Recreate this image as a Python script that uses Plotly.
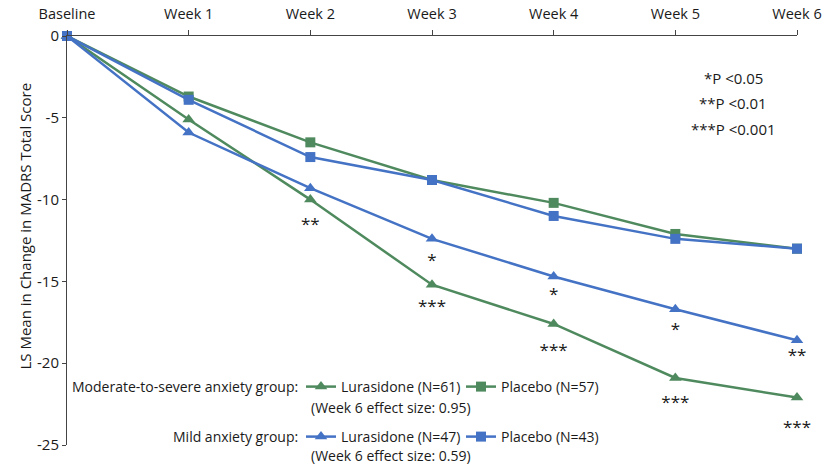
import plotly.graph_objects as go

weeks = ["Baseline", "Week 1", "Week 2", "Week 3", "Week 4", "Week 5", "Week 6"]
x_idx = list(range(len(weeks)))
y_ticks = [0, -5, -10, -15, -20, -25]

mod_luras = [0, -5.1, -10.0, -15.2, -17.6, -20.9, -22.1]
mod_placebo = [0, -3.7, -6.5, -8.8, -10.2, -12.1, -13.0]
mild_luras = [0, -5.9, -9.3, -12.4, -14.7, -16.7, -18.6]
mild_placebo = [0, -3.9, -7.4, -8.8, -11.0, -12.4, -13.0]

# significance labels: (week index, y position, text)
sig_weeks = [2, 3, 3, 4, 4, 5, 5, 6, 6]
sig_y = [-11.6, -13.8, -16.6, -15.9, -19.3, -18.0, -22.5, -19.6, -24.0]
sig_text = ["**", "*", "***", "*", "***", "*", "***", "**", "***"]

GREEN = "#4F8A5E"
BLUE = "#4472C4"
FONT = "Open Sans"
TXT = "#1a1a1a"

W, H = 822, 464
L, R, T, B = 67, 25, 36, 18
PW, PH = W - L - R, H - T - B


def px(xp):
    return (xp - L) / PW


def py(yp):
    return (H - B - yp) / PH


fig = go.Figure()

fig.add_trace(go.Scatter(x=x_idx, y=mod_luras, mode="lines+markers", name="Lurasidone (N=61)",
                         line=dict(color=GREEN, width=2.5),
                         marker=dict(symbol="triangle-up", size=11, color=GREEN),
                         cliponaxis=False, legend="legend"))
fig.add_trace(go.Scatter(x=x_idx, y=mod_placebo, mode="lines+markers", name="Placebo (N=57)",
                         line=dict(color=GREEN, width=2.5),
                         marker=dict(symbol="square", size=10, color=GREEN),
                         cliponaxis=False, legend="legend"))
fig.add_trace(go.Scatter(x=x_idx, y=mild_luras, mode="lines+markers", name="Lurasidone (N=47)",
                         line=dict(color=BLUE, width=2.5),
                         marker=dict(symbol="triangle-up", size=11, color=BLUE),
                         cliponaxis=False, legend="legend2"))
fig.add_trace(go.Scatter(x=x_idx, y=mild_placebo, mode="lines+markers", name="Placebo (N=43)",
                         line=dict(color=BLUE, width=2.5),
                         marker=dict(symbol="square", size=10, color=BLUE),
                         cliponaxis=False, legend="legend2"))

fig.add_trace(go.Scatter(x=sig_weeks, y=sig_y, mode="text", text=sig_text,
                         textfont=dict(family=FONT, size=17, color=TXT),
                         showlegend=False, hoverinfo="skip", cliponaxis=False))

anns = []
for text, xx, yy, anchor in [
    ("Moderate-to-severe anxiety group:", 300, 387, "right"),
    ("(Week 6 effect size: 0.95)", 309, 408, "left"),
    ("Mild anxiety group:", 300, 437, "right"),
    ("(Week 6 effect size: 0.59)", 309, 457, "left"),
]:
    anns.append(dict(text=text, x=px(xx), y=py(yy), xref="paper", yref="paper",
                     xanchor=anchor, yanchor="middle", showarrow=False,
                     font=dict(family=FONT, size=14, color=TXT)))

for label, yy in zip(["*P <0.05", "**P <0.01", "***P <0.001"], [78, 103, 129]):
    anns.append(dict(text=label, x=px(733), y=py(yy), xref="paper", yref="paper",
                     xanchor="center", yanchor="middle", showarrow=False,
                     font=dict(family=FONT, size=15, color=TXT)))

anns.append(dict(text="LS Mean in Change in MADRS Total Score", x=px(25), y=py(227),
                 xref="paper", yref="paper", xanchor="center", yanchor="middle",
                 textangle=-90, showarrow=False, font=dict(family=FONT, size=15, color=TXT)))

leg_common = dict(orientation="h", xanchor="left", yanchor="middle",
                  font=dict(family=FONT, size=14, color=TXT), bgcolor="rgba(0,0,0,0)",
                  entrywidth=115, itemwidth=30, tracegroupgap=0)

fig.update_layout(
    width=W, height=H,
    margin=dict(l=L, r=R, t=T, b=B),
    paper_bgcolor="white", plot_bgcolor="white",
    font=dict(family=FONT, size=14, color=TXT),
    annotations=anns,
    legend=dict(x=px(301), y=py(387), **leg_common),
    legend2=dict(x=px(301), y=py(437), **leg_common),
    xaxis=dict(range=[0, 6], side="top", tickvals=x_idx, ticktext=weeks, automargin=False,
               showline=True, linecolor="#444", linewidth=1, ticks="outside", ticklen=5,
               ticklabelstandoff=5, ticklabeloverflow="allow",
               tickcolor="#444", showgrid=False, zeroline=False,
               tickfont=dict(family=FONT, size=14.5, color=TXT)),
    yaxis=dict(range=[-25, 0], tickvals=y_ticks, ticktext=[str(v) for v in y_ticks],
               automargin=False, ticklabeloverflow="allow",
               showline=True, linecolor="#444", linewidth=1, ticks="outside", ticklen=4,
               tickcolor="#444", showgrid=False, zeroline=False,
               tickfont=dict(family=FONT, size=15, color=TXT)),
    showlegend=True,
)

fig.write_html("out.html", config={"displayModeBar": False},
               post_script="document.body.style.margin='0px';")
